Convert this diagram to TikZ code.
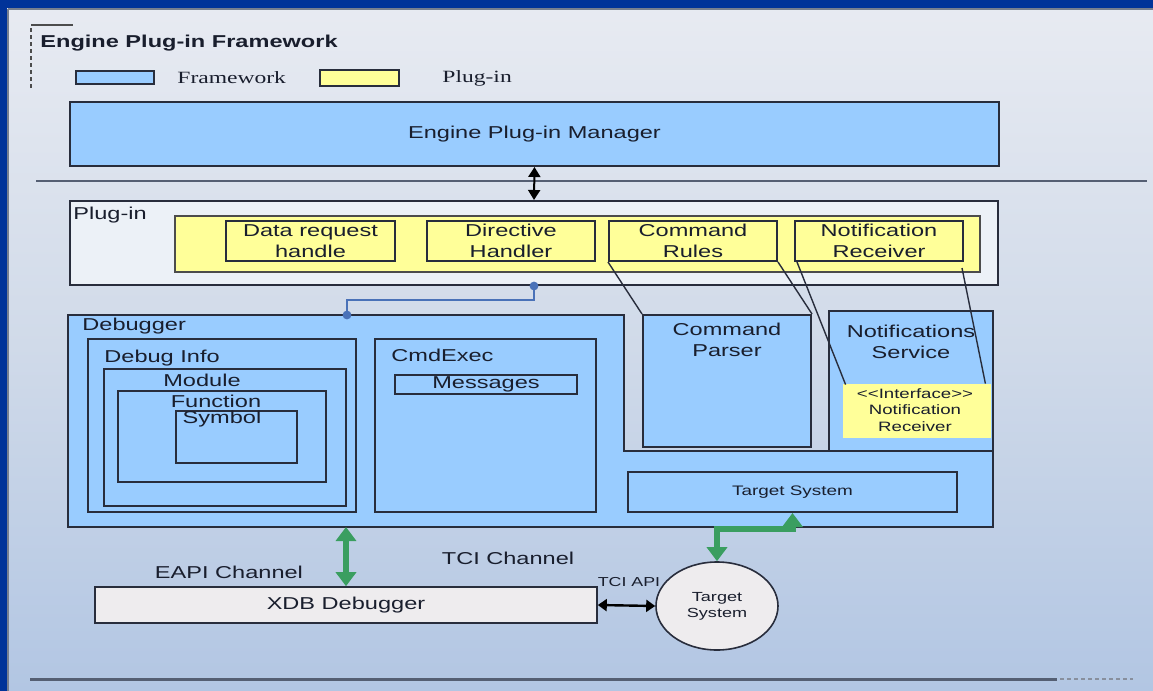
\documentclass[tikz,border=0pt]{standalone}
\usepackage{fontspec}
\setmainfont{Liberation Sans}[FakeStretch=1.37]
\newfontfamily\legendserif{Liberation Serif}[FakeStretch=1.37]
\usetikzlibrary{fit,shapes.geometric,arrows.meta}

\definecolor{frameblue}{RGB}{0,51,153}
\definecolor{bgtop}{RGB}{232,235,242}
\definecolor{bgmid}{RGB}{208,218,233}
\definecolor{bgbot}{RGB}{178,198,227}
\definecolor{fwblue}{RGB}{153,204,255}
\definecolor{pgyellow}{RGB}{255,255,153}
\definecolor{edge}{RGB}{40,45,60}
\definecolor{ink}{RGB}{25,30,45}
\definecolor{linkblue}{RGB}{74,114,184}
\definecolor{chgreen}{RGB}{58,158,96}
\definecolor{paleplug}{RGB}{236,241,247}
\definecolor{palegray}{RGB}{238,236,238}
\definecolor{rulegray}{RGB}{85,95,115}

\tikzset{
  txt/.style={text=ink, inner sep=0pt, align=center, font=\fontsize{8.6}{10.5}\selectfont},
  smalltxt/.style={text=ink, inner sep=0pt, align=center, font=\fontsize{6.8}{8.4}\selectfont},
  box/.style={draw=edge, line width=1pt, inner sep=0pt},
  fwbox/.style={box, fill=fwblue},
  pibox/.style={box, fill=pgyellow},
  thinlink/.style={draw=edge, line width=0.7pt},
  blackarr/.style={black, line width=1pt,
    {Triangle[length=5pt,width=6pt]}-{Triangle[length=5pt,width=6pt]}},
  greenarr/.style={chgreen, line width=3pt,
    {Triangle[length=7pt,width=10pt]}-{Triangle[length=7pt,width=10pt]}},
}

\begin{document}
\begin{tikzpicture}[x=0.5pt,y=-0.5pt]
\useasboundingbox (0,0) rectangle (1153,691);

% backdrop and slide frame
\shade[top color=bgtop, bottom color=bgbot, middle color=bgmid] (0,0) rectangle (1153,691);
\fill[frameblue] (0,0) rectangle (1153,8);
\fill[frameblue] (0,0) rectangle (7,691);
\draw[rulegray!80, line width=0.8pt] (7.5,9) -- (1153,9);
\draw[rulegray!80, line width=0.8pt] (8,9) -- (8,691);

% title with its bracket
\draw[gray!60!black, line width=0.6pt] (31,25) -- (73,25);
\draw[gray!60!black, line width=0.8pt, dash pattern=on 2pt off 1.5pt] (31,28) -- (31,88);
\node[txt, anchor=west, font=\fontsize{8.6}{10.5}\selectfont\bfseries] (title) at (40,43) {Engine Plug-in Framework};

% legend
\node[fwbox, line width=0.7pt, fit={(76,71)(154,84)}] (legfw) {};
\node[txt, anchor=west, font=\legendserif\fontsize{8.6}{10.5}\selectfont] (legfwtxt) at (177,78) {Framework};
\node[pibox, line width=0.7pt, fit={(320,70)(399,86)}] (legpi) {};
\node[txt, anchor=west, font=\legendserif\fontsize{8.6}{10.5}\selectfont] (legpitxt) at (442,78) {Plug-in};

% plug-in manager
\node[fwbox, fit={(70,102)(999,166)}] (manager) {};
\node[txt] (managertxt) at (manager.center) {Engine Plug-in Manager};
\draw[rulegray, line width=1.2pt] (36,181) -- (1147,181);

% plug-in layer
\node[box, fill=paleplug, fit={(70,201)(998,285)}] (plugin) {};
\node[txt, anchor=west] (plugintxt) at (73,215) {Plug-in};
\node[draw=gray!60!black, line width=0.7pt, fill=pgyellow, inner sep=0pt, fit={(175,216)(980,272)}] (band) {};
\node[box, fit={(226,221)(395,261)}] (datareq) {};
\node[txt] (datareqtxt) at (datareq.center) {Data request\\handle};
\node[box, fit={(427,221)(595,261)}] (directive) {};
\node[txt] (directivetxt) at (directive.center) {Directive\\Handler};
\node[box, fit={(609,221)(777,261)}] (cmdrules) {};
\node[txt] (cmdrulestxt) at (cmdrules.center) {Command\\Rules};
\node[box, fit={(795,221)(963,261)}] (notifrec) {};
\node[txt] (notifrectxt) at (notifrec.center) {Notification\\Receiver};

\draw[blackarr] (manager.south) -- (plugin.north);

% debugger block
\draw[fill=fwblue, draw=edge, line width=1pt]
  (68,315) -- (624,315) -- (624,451) -- (993,451) -- (993,527) -- (68,527) -- cycle;
\coordinate (dbgN) at (347,315);
\coordinate (dbgS) at (346,527);
\node[txt, anchor=west] (dbgtxt) at (82,326) {Debugger};

\node[box, fit={(88,339)(356,512)}] (dbginfo) {};
\node[txt, anchor=west] (dbginfotxt) at (104,358) {Debug Info};
\node[box, fit={(104,369)(346,506)}] (module) {};
\node[txt] (moduletxt) at (202,380) {Module};
\node[box, fit={(118,391)(326,482)}] (function) {};
\node[txt] (functiontxt) at (216,401) {Function};
\node[box, fit={(176,411)(297,463)}] (symbol) {};
\node[txt] (symboltxt) at (222,419) {Symbol};

\node[box, fit={(375,339)(596,512)}] (cmdexec) {};
\node[txt, anchor=west] (cmdexectxt) at (391,355) {CmdExec};
\node[box, fit={(395,375)(577,394)}] (messages) {};
\node[txt] (messagestxt) at (messages.center) {Messages};

\node[fwbox, fit={(643,315)(811,447)}] (parser) {};
\node[txt] (parsertxt) at (727,340) {Command\\Parser};

\node[fwbox, fit={(829,311)(993,451)}] (notifsvc) {};
\node[txt] (notifsvctxt) at (911,342) {Notifications\\Service};
\node[fill=pgyellow, inner sep=0pt, fit={(843,384)(991,438)}] (iface) {};
\node[smalltxt] (ifacetxt) at (915,410) {<{}<Interface>{}>\\Notification\\Receiver};

\node[fwbox, fit={(628,472)(957,512)}] (tsbox) {};
\node[smalltxt, font=\fontsize{6.9}{8.4}\selectfont] (tsboxtxt) at (tsbox.center) {Target System};

% links from the plug-in handlers
\draw[thinlink] (cmdrules.south west) -- (parser.north west);
\draw[thinlink] (cmdrules.south east) -- (parser.north east);
\draw[thinlink] ([shift={(3,0)}]notifrec.south west) -- ([shift={(3,1)}]iface.north west);
\draw[thinlink] ([shift={(-2,6)}]notifrec.south east) -- ([shift={(-6,0)}]iface.north east);

% plug-in to debugger link
\draw[linkblue, line width=1pt] (plugin.south) -- ++(0,14) -| (dbgN);
\fill[linkblue] (plugin.south) circle (2.2pt);
\fill[linkblue] (dbgN) circle (2.2pt);

% external debugger and target
\node[box, fill=palegray, line width=0.8pt, fit={(95,587)(597,623)}] (xdb) {};
\node[txt] (xdbtxt) at (xdb.center) {XDB Debugger};
\node[ellipse, draw=edge, line width=0.8pt, fill=palegray, minimum width=61pt,
  minimum height=44pt, inner sep=0pt] (tsell) at (717,606) {};
\node[smalltxt, font=\fontsize{6.6}{8}\selectfont] (tselltxt) at (tsell.center) {Target\\System};

\draw[greenarr] (dbgS) -- (xdb.north);
\draw[greenarr] (tsell.north) -- ++(0,-32) -| (tsbox.south);
\draw[black, line width=1.2pt, {Triangle[length=4.5pt,width=6pt]}-{Triangle[length=4.5pt,width=6pt]}] (xdb.east) -- (tsell.west);

\node[txt] (eapitxt) at (229,572) {EAPI Channel};
\node[txt] (tcitxt) at (508,558) {TCI Channel};
\node[smalltxt, font=\fontsize{6.5}{8}\selectfont] (tciapitxt) at (629,582) {TCI API};

% closing rule
\draw[rulegray, line width=1.5pt] (30,679) -- (1057,679);
\draw[rulegray!70, line width=1.2pt, dash pattern=on 2pt off 1.5pt] (1060,679) -- (1133,679);
\end{tikzpicture}
\end{document}
